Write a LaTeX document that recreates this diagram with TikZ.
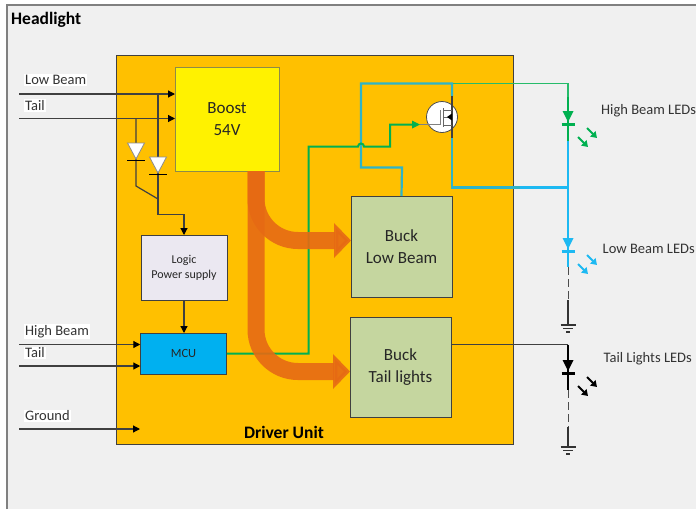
\documentclass[tikz,border=0pt]{standalone}
\usepackage{fontspec}
\setmainfont{Carlito}
\usetikzlibrary{arrows.meta,positioning}
\definecolor{frameback}{HTML}{F0F0F0}
\definecolor{driverfill}{HTML}{FFC000}
\definecolor{buckfill}{HTML}{C5D69F}
\definecolor{logicfill}{HTML}{EBE8F1}
\definecolor{mcufill}{HTML}{00B0F0}
\definecolor{flowfill}{HTML}{E66A14}
\definecolor{ledgreen}{HTML}{00B050}
\definecolor{ledblue}{HTML}{1DB9F2}
\definecolor{mixteal}{HTML}{2FB4C8}
\tikzset{
  block/.style={
      rectangle,
      inner sep=0pt,
      outer sep=0pt,
      align=center,
      draw=black!75,
      line width=.9pt,
      text=black!85,
      font=\fontsize{17}{21.5}\selectfont
  },
  wire/.style={
      line width=1.2pt,
      draw=black!75,
      >={Triangle[length=7pt,width=7pt,black]}
  },
  inlabel/.style={
      anchor=west,
      fill=white,
      inner sep=1pt,
      text=black!80,
      font=\fontsize{14.5}{16}\selectfont
  },
  ledlabel/.style={
      anchor=west,
      inner sep=0pt,
      text=black!80,
      font=\fontsize{14.5}{16}\selectfont
  },
  flow/.style={
      line width=17pt,
      draw=flowfill,
      opacity=.9,
      -{Triangle[length=17pt,width=34pt,flowfill]}
  }
}
\newcommand{\ledmark}[2]{
  \fill[#2] #1 ++(-5.5,0) -- ++(11,0) -- ++(-5.5,11) -- cycle;
  \draw[#2,line width=2.5pt] #1 ++(-6.5,13.5) -- ++(13,0);
  \draw[#2,line width=2pt,-{Triangle[length=6pt,width=7.5pt]}] #1 ++(19,17) -- ++(10,10);
  \draw[#2,line width=2pt,-{Triangle[length=6pt,width=7.5pt]}] #1 ++(10,26) -- ++(10,10);
}
\newcommand{\groundmark}[1]{
  \draw[black!80,line width=1.2pt] #1 ++(-7.5,0) -- ++(15,0);
  \draw[black!80,line width=1.2pt] #1 ++(-5,3.5) -- ++(10,0);
  \draw[black!80,line width=1.2pt] #1 ++(-2,7) -- ++(4,0);
}
\newcommand{\diodemark}[1]{
  \draw[black!45,fill=white,line width=.8pt] #1 ++(-8.5,0) -- ++(17,0) -- ++(-8.5,16) -- cycle;
  \draw[black,line width=.9pt] #1 ++(-9,17) -- ++(18,0);
}
\begin{document}
\begin{tikzpicture}[x=1pt,y=-1pt]
    \useasboundingbox (0,0) rectangle (696,509);
    \fill[frameback] (7,5) rectangle (696,509);
    \draw[black!50,line width=1.2pt] (7,509) -- (7,5) -- (696,5);
    \node[anchor=west,inner sep=0pt,font=\fontsize{17.5}{20}\selectfont\bfseries] (headlight) at (11,20) {Headlight};

    \node[block,fill=driverfill,minimum width=397pt,minimum height=389pt] (driver) at (315,249.5) {};
    \node[anchor=base,inner sep=0pt,font=\fontsize{17.5}{20}\selectfont\bfseries] (drivertext) at (284,438.5) {Driver Unit};
    \node[block,fill=yellow,draw=black!50!yellow,minimum width=104pt,minimum height=104pt] (boost) at (227,119) {Boost\\54V};
    \node[block,fill=logicfill,minimum width=86pt,minimum height=65pt,font=\fontsize{12}{15}\selectfont] (logic) at (184,267.5) {Logic\\Power supply};
    \node[block,fill=mcufill,minimum width=86.5pt,minimum height=41pt,font=\fontsize{12.5}{14}\selectfont] (mcu) at (183.5,353.5) {MCU};
    \node[block,fill=buckfill,minimum width=101pt,minimum height=101pt] (bucklow) at (401.5,246.5) {Buck\\Low Beam};
    \node[block,fill=buckfill,minimum width=101pt,minimum height=100pt] (bucktail) at (400.5,367) {Buck\\Tail lights};
    \node[circle,draw=black!70,fill=white,line width=.8pt,minimum size=31pt,inner sep=0pt] (mosfet) at (442,117) {};

    \coordinate (lowin) at (19,94);
    \coordinate (tailin) at (19,118.5);
    \coordinate (highmcu) at (19,344.5);
    \coordinate (tailmcu) at (19,366);
    \coordinate (groundin) at (19,429);
    \coordinate (groundend) at (140,429);
    \coordinate (diodea) at (136,143);
    \coordinate (diodeb) at (158,157);
    \coordinate (ledhigh) at (568,111);
    \coordinate (ledlow) at (568,238);
    \coordinate (ledtail) at (568,360);
    \coordinate (gndlow) at (568,325);
    \coordinate (gndtail) at (568,447);

    \draw[wire,->] (lowin) -- (lowin -| boost.west);
    \draw[wire,->] (tailin) -- (tailin -| boost.west);
    \draw[wire,->] (highmcu) -- (highmcu -| mcu.west);
    \draw[wire,->] (tailmcu) -- (tailmcu -| mcu.west);
    \draw[wire,->] (groundin) -- (groundend);
    \draw[wire] (diodea |- tailin) -- (136,186) -- (158,199);
    \draw[wire,->] (diodeb |- lowin) -- (158,214.5) -| (logic.north);
    \draw[wire,->] (logic.south) -- (logic.south |- mcu.north);
    \diodemark{(diodea)}
    \diodemark{(diodeb)}

    \draw[ledgreen!85!white,line width=1.2pt] (452,83.5) -- (568,83.5) -- (568,97);
    \draw[mixteal,line width=2.2pt] (bucklow.north) -- (402,167.5) -- (361,167.5) -- (361,83.5) -- (452,83.5) -- (452,96);
    \draw[wire] (452,96) -- (452,138);
    \draw[mixteal,line width=2.2pt] (452,138) -- (452,187.5) -- (520,187.5);
    \draw[ledblue,line width=2.2pt] (520,187.5) -- (568,187.5);

    \draw[black!50,line width=.9pt] (420,124.5) -- (440.5,124.5) -- (440.5,110);
    \draw[black!60,line width=1pt] (443.5,108) -- (443.5,127);
    \draw[black!60,line width=.8pt] (443.5,110) -- (452,110);
    \draw[black!60,line width=.8pt] (443.5,117) -- (452,117);
    \draw[black!60,line width=.8pt] (443.5,125) -- (452,125);
    \fill[black] (447,117) -- (452,113.5) -- (452,120.5) -- cycle;

    \draw[ledgreen,line width=2pt] (mcu.east) -- (308.5,353.5) -- (308.5,146.5) -- (358,146.5) arc[start angle=180,end angle=0,radius=3pt] -- (390,146.5) -- (390,124.5) -- (415,124.5);
    \fill[ledgreen] (420,124.5) -- (412,120.5) -- (412,128.5) -- cycle;

    \draw[flow] (256,171) -- (256,198.5) to[out=-90,in=180] (298,240.5) -- (351,240.5);
    \draw[flow] (256,171) -- (256,329.5) to[out=-90,in=180] (298,371.5) -- (350,371.5);

    \draw[ledgreen,line width=2pt] (568,97) -- (ledhigh);
    \ledmark{(ledhigh)}{ledgreen}
    \draw[ledgreen,line width=2pt] (ledhigh) -- (568,141);
    \draw[ledblue,line width=2pt] (568,141) -- (ledlow);
    \ledmark{(ledlow)}{ledblue}
    \draw[ledblue,line width=2pt] (ledlow) -- (568,267);
    \draw[black!70,line width=1pt,dash pattern=on 8pt off 4pt] (568,267) -- (568,300);
    \draw[black!80,line width=1.5pt] (568,300) -- (gndlow);
    \groundmark{(gndlow)}

    \draw[wire] (bucktail.east |- 0,344.5) -- (568,344.5);
    \draw[black,line width=2pt] (568,344.5) -- (ledtail);
    \ledmark{(ledtail)}{black}
    \draw[black,line width=2pt] (ledtail) -- (568,390);
    \draw[black!70,line width=1pt,dash pattern=on 8pt off 4pt] (568,390) -- (568,427);
    \draw[black!80,line width=1.5pt] (568,427) -- (gndtail);
    \groundmark{(gndtail)}

    \node[inlabel] (lowtext) at (24,80) {Low Beam};
    \node[inlabel] (tailtext) at (24,105.5) {Tail};
    \node[inlabel] (hightext) at (24,331.5) {High Beam};
    \node[inlabel] (tailmcutext) at (24,353) {Tail};
    \node[inlabel] (groundtext) at (24,416) {Ground};
    \node[ledlabel] (highled) at (601,111) {High Beam LEDs};
    \node[ledlabel] (lowled) at (602.5,249) {Low Beam LEDs};
    \node[ledlabel] (tailled) at (603.5,359) {Tail Lights LEDs};
\end{tikzpicture}
\end{document}
